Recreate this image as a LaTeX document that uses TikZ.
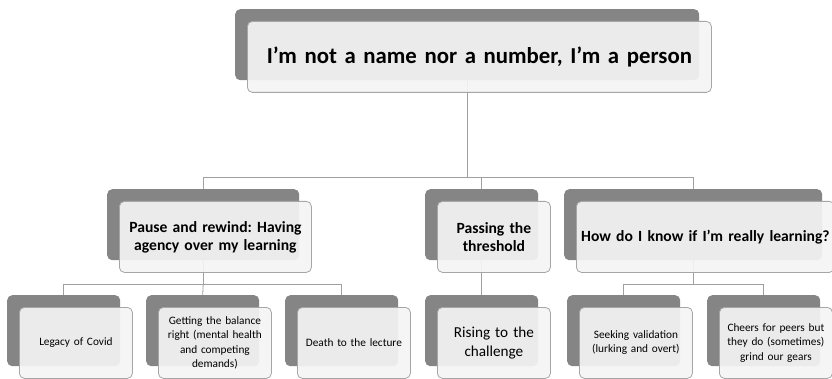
\documentclass[tikz,border=0pt]{standalone}
\usepackage{fontspec}
\setmainfont{Carlito}
\usetikzlibrary{backgrounds,calc}
\frenchspacing
\definecolor{backgray}{HTML}{858585}
\definecolor{cardfill}{HTML}{F4F4F4}
\definecolor{cardline}{HTML}{A6A6A6}
\definecolor{wire}{HTML}{A0A0A0}
\tikzset{
  backcard/.style={fill=backgray, rounded corners=5pt, inner sep=0pt, anchor=north west},
  frontcard/.style={fill=cardfill, fill opacity=0.92, text opacity=1, draw=cardline,
    line width=0.8pt, rounded corners=5pt, inner sep=0pt, anchor=north west,
    align=center},
  wirestyle/.style={draw=wire, line width=0.8pt},
  heading/.style={font=\fontsize{22.8}{27}\selectfont\bfseries},
  subhead/.style={font=\fontsize{15.6}{18}\selectfont\bfseries},
  leaf/.style={font=\fontsize{11.3}{14.2}\selectfont},
  bigleaf/.style={font=\fontsize{15.2}{19}\selectfont},
}
% #1 name, #2 left, #3 top, #4 width, #5 height, #6 text style, #7 text
\newcommand\cardpair[7]{%
  \node[backcard, minimum width=#4pt, minimum height=#5pt] (#1d) at (#2,#3) {};
  \node[frontcard, #6, minimum width=#4pt, minimum height=#5pt, text width=#4pt]
    (#1) at (#2+12,#3+12) {#7};}
\begin{document}
\begin{tikzpicture}[x=1pt,y=-1pt]
\useasboundingbox (0,0) rectangle (832,379);
% top
\cardpair{top}{235}{9}{464}{71}{heading}{I’m not a name nor a number, I’m a person}
% second row
\cardpair{pause}{107}{189}{192}{71}{subhead}{Pause and rewind: Having\\agency over my learning}
\cardpair{pass}{425}{189}{113}{71}{subhead}{Passing the\\threshold}
\cardpair{how}{564}{189}{258}{71}{subhead}{How do I know if I’m really learning?}
% third row
\cardpair{covid}{7}{295}{113}{71}{leaf}{Legacy of Covid}
\cardpair{balance}{146}{295}{113}{71}{leaf}{Getting the balance\\right (mental health\\and competing\\demands)}
\cardpair{lecture}{285}{295}{113}{71}{leaf}{Death to the lecture}
\cardpair{rising}{425}{295}{113}{71}{bigleaf}{Rising to the\\challenge}
\cardpair{seek}{567}{295}{113}{71}{leaf}{Seeking validation\\(lurking and overt)}
\cardpair{cheers}{707}{295}{113}{71}{leaf}{Cheers for peers but\\they do (sometimes)\\grind our gears}
% connectors
\begin{scope}[on background layer]
  \coordinate (j1) at ($(topd.south)+(0,97)$);
  \coordinate (j2) at ($(paused.south)+(0,24)$);
  \coordinate (j3) at ($(howd.south)+(0,24)$);
  \draw[wirestyle] (topd.south) -- (j1);
  \draw[wirestyle] (paused.north) |- (j1);
  \draw[wirestyle] (howd.north) |- (j1);
  \draw[wirestyle] (passd.north) -- (passd.north |- j1);
  \draw[wirestyle] (paused.south) -- (j2);
  \draw[wirestyle] (covidd.north) |- (j2);
  \draw[wirestyle] (balanced.north) -- (j2);
  \draw[wirestyle] (lectured.north) |- (j2);
  \draw[wirestyle] (passd.south) -- (risingd.north);
  \draw[wirestyle] (howd.south) -- (j3);
  \draw[wirestyle] (seekd.north) |- (j3);
  \draw[wirestyle] (cheersd.north) |- (j3);
\end{scope}
\end{tikzpicture}
\end{document}
